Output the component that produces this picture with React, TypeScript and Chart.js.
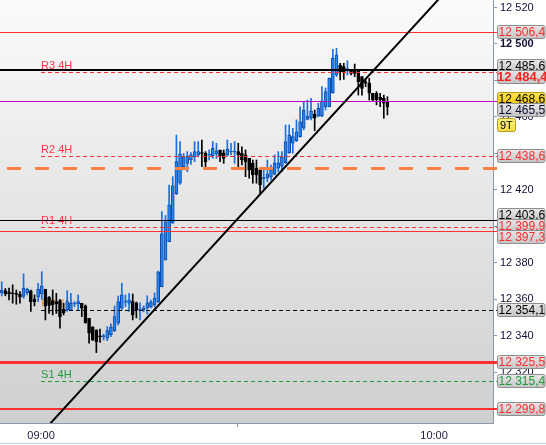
import React, { useEffect, useRef } from 'react';
import { Chart, registerables } from 'chart.js';

Chart.register(...registerables);

const FONT = "'Liberation Sans', Arial, Helvetica, sans-serif";

// ---------- candles ----------
const firstCandleTime = '08:54:00';
const candleSeconds = 33.33;

const opens = [
  12363.6, 12364.8, 12364.1, 12363.7, 12363.3, 12362.8, 12361.6, 12363.7, 12364.7, 12360.1,
  12361.2, 12363.0, 12365.6, 12361.2, 12359.4, 12358.8, 12359.4, 12354.6, 12354.3, 12353.9,
  12357.6, 12357.5, 12357.9, 12356.5, 12349.7, 12344.8, 12343.3, 12340.0, 12339.6, 12338.8,
  12340.6, 12342.9, 12347.0, 12355.2, 12358.5, 12357.9, 12358.8, 12358.1, 12354.0, 12354.3,
  12355.4, 12355.9, 12357.0, 12358.8, 12367.0, 12381.6, 12391.7, 12401.8, 12418.0, 12423.7,
  12432.8, 12434.6, 12436.4, 12438.2, 12439.2, 12440.4, 12440.1, 12439.0, 12438.6, 12439.7,
  12441.9, 12440.4, 12439.2, 12440.8, 12440.7, 12441.0, 12440.1, 12439.2, 12437.3, 12434.6,
  12431.9, 12431.0, 12426.2, 12426.4, 12427.0, 12428.7, 12431.9, 12433.1, 12435.0, 12440.4,
  12445.6, 12447.0, 12449.2, 12453.8, 12458.7, 12459.3, 12461.6, 12460.5, 12460.5, 12465.6,
  12465.6, 12473.3, 12483.0, 12488.5, 12487.6, 12486.0, 12485.7, 12485.7, 12485.7, 12482.1,
  12479.3, 12478.5, 12473.0, 12473.0, 12470.8, 12470.2, 12468.4,
];
const highs = [
  12369.7, 12366.0, 12366.3, 12368.0, 12365.2, 12364.3, 12374.0, 12366.2, 12365.2, 12362.5,
  12368.9, 12375.2, 12365.6, 12361.6, 12365.2, 12363.4, 12360.1, 12357.9, 12364.8, 12363.4,
  12358.8, 12362.5, 12357.9, 12357.0, 12349.7, 12345.2, 12343.3, 12343.7, 12341.0, 12345.1,
  12346.6, 12356.5, 12361.9, 12368.9, 12362.5, 12363.4, 12363.0, 12358.6, 12358.1, 12356.5,
  12362.0, 12359.7, 12363.6, 12375.6, 12408.1, 12406.0, 12422.7, 12427.3, 12450.1, 12446.5,
  12440.0, 12441.0, 12440.5, 12446.5, 12446.5, 12447.4, 12441.0, 12442.0, 12446.5, 12445.6,
  12441.9, 12441.9, 12447.4, 12445.6, 12446.5, 12445.6, 12443.7, 12441.9, 12437.3, 12436.4,
  12436.4, 12431.9, 12431.0, 12436.4, 12433.7, 12439.2, 12441.0, 12441.0, 12455.6, 12455.6,
  12453.8, 12458.4, 12465.6, 12468.4, 12469.3, 12470.2, 12463.8, 12467.5, 12476.6, 12475.9,
  12481.4, 12497.1, 12497.6, 12489.4, 12489.4, 12490.8, 12485.7, 12489.0, 12485.7, 12482.1,
  12480.3, 12481.2, 12473.0, 12473.9, 12473.0, 12472.0, 12471.1,
];
const lows = [
  12361.9, 12362.0, 12359.7, 12358.0, 12357.4, 12358.0, 12360.7, 12362.5, 12353.4, 12356.5,
  12358.8, 12360.1, 12348.8, 12352.4, 12351.5, 12352.4, 12344.2, 12351.5, 12353.4, 12353.9,
  12356.1, 12354.3, 12350.6, 12347.0, 12336.0, 12337.5, 12330.9, 12336.4, 12337.8, 12337.4,
  12339.6, 12342.4, 12346.0, 12354.3, 12356.1, 12353.4, 12348.8, 12349.9, 12348.8, 12353.2,
  12352.0, 12355.4, 12355.9, 12358.3, 12366.9, 12381.6, 12391.7, 12401.8, 12417.5, 12423.0,
  12431.0, 12430.0, 12434.0, 12435.5, 12438.2, 12432.8, 12432.8, 12436.4, 12437.3, 12437.3,
  12435.5, 12434.6, 12438.6, 12439.2, 12434.6, 12432.8, 12433.7, 12427.3, 12426.4, 12423.7,
  12423.7, 12418.2, 12420.9, 12424.5, 12425.5, 12428.2, 12430.0, 12430.0, 12434.6, 12440.1,
  12440.1, 12446.5, 12448.9, 12452.9, 12458.4, 12458.4, 12452.5, 12460.1, 12460.1, 12463.8,
  12465.5, 12473.0, 12482.1, 12480.3, 12480.6, 12483.0, 12483.0, 12482.1, 12472.0, 12472.0,
  12476.6, 12469.3, 12468.4, 12466.6, 12465.6, 12459.3, 12461.1,
];
const closes = [
  12365.2, 12363.0, 12363.0, 12363.0, 12362.8, 12361.2, 12366.2, 12365.6, 12358.8, 12358.8,
  12365.6, 12367.4, 12356.5, 12356.8, 12357.0, 12357.5, 12350.6, 12352.8, 12358.8, 12357.9,
  12358.0, 12358.8, 12355.2, 12347.3, 12341.5, 12337.8, 12336.9, 12339.5, 12340.0, 12342.9,
  12344.8, 12350.6, 12358.8, 12362.5, 12359.0, 12359.7, 12351.5, 12354.3, 12354.5, 12355.4,
  12358.1, 12358.6, 12360.8, 12375.2, 12395.9, 12402.6, 12411.8, 12422.2, 12435.5, 12439.7,
  12438.0, 12438.6, 12439.2, 12441.0, 12441.0, 12440.0, 12435.5, 12439.4, 12442.8, 12441.5,
  12438.6, 12437.3, 12442.3, 12441.1, 12441.2, 12439.2, 12436.4, 12435.5, 12431.0, 12428.2,
  12428.2, 12422.7, 12426.6, 12428.7, 12431.0, 12434.9, 12434.9, 12437.9, 12446.5, 12450.1,
  12449.2, 12451.9, 12457.4, 12463.8, 12460.5, 12463.4, 12459.3, 12464.8, 12468.8, 12473.9,
  12481.2, 12492.2, 12494.0, 12484.8, 12484.8, 12486.3, 12483.9, 12483.9, 12479.3, 12475.7,
  12478.5, 12473.0, 12469.3, 12469.3, 12469.3, 12467.5, 12465.5,
];

// ---------- axes ----------
const viewStartTime = '08:53:44';
const viewEndTime = '10:09:00';
const timeTickLabels = ['09:00', '10:00'];
const priceMin = 12292.3;
const priceMax = 12524.1;
const priceTicks = [12300, 12320, 12340, 12360, 12380, 12400, 12420, 12440, 12460, 12480, 12500, 12520];

// ---------- horizontal levels ----------
const levelValues = [12506.4, 12485.6, 12468.6, 12431.9, 12403.6, 12397.3, 12325.5, 12299.8];
const pivotNames = ['R3 4H', 'R2 4H', 'R1 4H', 'PP 4H', 'S1 4H'];
const pivotValues = [12484.4, 12438.6, 12399.9, 12354.1, 12315.4];
const pivotStartTime = '09:00';

// ---------- trend line ----------
const trendTimes = ['09:00', '10:01'];
const trendPrices = [12286.5, 12525.7];

const timerLabel = '9T';

// styles (kept apart from the data)
const RED = '#ff3030';
const levelStyles = [
  { color: RED, width: 1, dash: [] as number[], offset: 0, box: 'gray', text: '#ff2a2a' },
  { color: '#000000', width: 2, dash: [], offset: 0, box: 'gray', text: '#000000' },
  { color: '#c000c0', width: 1, dash: [], offset: 0, box: 'yellow', text: '#000000' },
  { color: '#ff8040', width: 3, dash: [14, 14], offset: 21, box: null, text: '' },
  { color: '#000000', width: 1, dash: [], offset: 0, box: 'gray', text: '#000000' },
  { color: RED, width: 1, dash: [], offset: 0, box: 'gray', text: '#ff2a2a' },
  { color: RED, width: 3, dash: [], offset: 0, box: 'gray', text: '#ff2a2a' },
  { color: RED, width: 2, dash: [], offset: 0, box: 'gray', text: '#ff2a2a' },
];
const pivotStyles = [
  { color: RED, label: '#ff3344', text: '#ff2020', bold: true },
  { color: RED, label: '#ff3344', text: '#ff2a2a', bold: false },
  { color: RED, label: '#ff3344', text: '#ff2a2a', bold: false },
  { color: '#000000', label: '#e89a3c', text: '#000000', bold: false },
  { color: '#1e9a3c', label: '#1e9a3c', text: '#1e9a3c', bold: false },
];

function toMin(s: string): number {
  const p = s.split(':').map(Number);
  return p[0] * 60 + p[1] + (p[2] || 0) / 60;
}

function fmtPrice(v: number, dec: number): string {
  const s = v.toFixed(dec);
  const [i, d] = s.split('.');
  const ip = i.replace(/\B(?=(\d{3})+(?!\d))/g, ' ');
  return d ? ip + ',' + d : ip;
}

function spread(ys: number[], gap: number): number[] {
  type C = { s: number; e: number };
  let cl: C[] = ys.map((_, i) => ({ s: i, e: i }));
  const top = (c: C) => {
    let sum = 0;
    for (let k = c.s; k <= c.e; k++) sum += ys[k];
    const n = c.e - c.s + 1;
    return sum / n - ((n - 1) * gap) / 2;
  };
  let changed = true;
  while (changed) {
    changed = false;
    for (let k = 0; k < cl.length - 1; k++) {
      const a = cl[k], b = cl[k + 1];
      const aBottom = top(a) + (a.e - a.s) * gap;
      if (top(b) - aBottom < gap) {
        cl.splice(k, 2, { s: a.s, e: b.e });
        changed = true;
        break;
      }
    }
  }
  const out: number[] = new Array(ys.length);
  cl.forEach((c) => {
    const t = top(c);
    for (let k = c.s; k <= c.e; k++) out[k] = t + (k - c.s) * gap;
  });
  return out;
}

function drawBox(ctx: CanvasRenderingContext2D, x: number, y: number, w: number, h: number, kind: string) {
  const g = ctx.createLinearGradient(0, y, 0, y + h);
  if (kind === 'yellow') {
    g.addColorStop(0, '#ffe650');
    g.addColorStop(1, '#f0c400');
  } else if (kind === 'timer') {
    g.addColorStop(0, '#fff27a');
    g.addColorStop(1, '#f5dc40');
  } else {
    g.addColorStop(0, '#e8e8e8');
    g.addColorStop(1, '#c4c4c4');
  }
  const r = 2;
  ctx.beginPath();
  ctx.moveTo(x + r, y);
  ctx.lineTo(x + w - r, y);
  ctx.quadraticCurveTo(x + w, y, x + w, y + r);
  ctx.lineTo(x + w, y + h - r);
  ctx.quadraticCurveTo(x + w, y + h, x + w - r, y + h);
  ctx.lineTo(x + r, y + h);
  ctx.quadraticCurveTo(x, y + h, x, y + h - r);
  ctx.lineTo(x, y + r);
  ctx.quadraticCurveTo(x, y, x + r, y);
  ctx.closePath();
  ctx.fillStyle = g;
  ctx.fill();
  ctx.strokeStyle = kind === 'gray' ? '#8e8e8e' : '#b89a20';
  ctx.lineWidth = 1;
  ctx.stroke();
}

const chartPlugin = {
  id: 'tradingDecor',
  beforeDraw(chart: any) {
    const { ctx, chartArea: a } = chart;
    ctx.save();
    ctx.fillStyle = '#ffffff';
    ctx.fillRect(0, 0, chart.width, chart.height);
    const g = ctx.createLinearGradient(0, a.top, 0, a.bottom);
    g.addColorStop(0, '#fbfbfb');
    g.addColorStop(1, '#cfcfcf');
    ctx.fillStyle = g;
    ctx.fillRect(a.left, a.top, a.right - a.left, a.bottom - a.top);
    ctx.restore();
  },
  beforeDatasetsDraw(chart: any) {
    const { ctx, scales } = chart;
    const x0 = scales.x.getPixelForValue(toMin(pivotStartTime));
    ctx.save();
    ctx.font = `11px ${FONT}`;
    ctx.textBaseline = 'alphabetic';
    ctx.textAlign = 'left';
    pivotValues.forEach((v, i) => {
      const y = Math.round(scales.y.getPixelForValue(v));
      ctx.fillStyle = pivotStyles[i].label;
      ctx.fillText(pivotNames[i], x0, y - 3);
    });
    ctx.restore();
  },
  beforeDatasetDraw(chart: any, args: any) {
    if (args.meta.type !== 'line') return;
    const { ctx, scales, chartArea: a } = chart;
    const right = a.right + 4;
    const drawLine = (v: number, x0: number, st: any) => {
      const yy = scales.y.getPixelForValue(v);
      const y = st.width % 2 === 1 ? Math.round(yy) + 0.5 : Math.round(yy);
      ctx.beginPath();
      ctx.strokeStyle = st.color;
      ctx.lineWidth = st.width;
      ctx.setLineDash(st.dash || []);
      ctx.lineDashOffset = st.offset || 0;
      ctx.moveTo(x0, y);
      ctx.lineTo(right, y);
      ctx.stroke();
    };
    ctx.save();
    levelValues.forEach((v, i) => drawLine(v, a.left, levelStyles[i]));
    const px0 = scales.x.getPixelForValue(toMin(pivotStartTime));
    pivotValues.forEach((v, i) =>
      drawLine(v, px0, { color: pivotStyles[i].color, width: 1, dash: [4, 3], offset: 0 })
    );
    ctx.setLineDash([]);
    ctx.restore();
  },
  afterDraw(chart: any) {
    const { ctx, scales, chartArea: a } = chart;
    type Item = { value: number; text: string; box: string; bold: boolean; isCurrent?: boolean };
    const items: Item[] = [];
    levelValues.forEach((v, i) => {
      const st = levelStyles[i];
      if (st.box) items.push({ value: v, text: st.text, box: st.box, bold: false });
    });
    pivotValues.forEach((v, i) => {
      items.push({ value: v, text: pivotStyles[i].text, box: 'gray', bold: pivotStyles[i].bold });
    });
    items.push({ value: closes[closes.length - 1], text: '#0a0a30', box: 'gray', bold: false, isCurrent: true });
    items.sort((p, q) => q.value - p.value);
    const ys = items.map((it) => scales.y.getPixelForValue(it.value));
    const pos = spread(ys, 11);
    const bx = a.right + 4;
    const bw = chart.width - bx - 1.5;
    const bh = 14;
    ctx.save();
    let currentY = 0;
    items.forEach((it, k) => {
      const cy = Math.round(pos[k]);
      drawBox(ctx, bx + 0.5, cy - bh / 2 + 0.5, bw, bh - 1, it.box);
      ctx.fillStyle = it.text;
      ctx.textBaseline = 'middle';
      ctx.textAlign = 'left';
      ctx.font = it.bold ? `bold 13px ${FONT}` : `12px ${FONT}`;
      ctx.fillText(fmtPrice(it.value, 1), it.bold ? bx : bx + 1.5, cy + 0.5);
      if (it.isCurrent) currentY = cy;
    });
    const ty = currentY + 15;
    drawBox(ctx, bx + 0.5, ty - bh / 2 + 0.5, 18, bh - 1, 'timer');
    ctx.fillStyle = '#000000';
    ctx.font = `11px ${FONT}`;
    ctx.textBaseline = 'middle';
    ctx.fillText(timerLabel, bx + 3, ty + 0.5);
    ctx.fillStyle = '#bcd6ee';
    ctx.fillRect(0, chart.height - 2, chart.width, 1);
    ctx.restore();
  },
};

export default function App() {
  const ref = useRef<HTMLCanvasElement | null>(null);
  useEffect(() => {
    if (!ref.current) return;
    const t0 = toMin(firstCandleTime);
    const times = opens.map((_, i) => t0 + (i * candleSeconds) / 60);
    const up = opens.map((o, i) => closes[i] >= o);
    const bodyData = times.map((t, i) => ({ x: t, y: [opens[i], closes[i]] }));
    const wickData = times.map((t, i) => ({ x: t, y: [lows[i], highs[i]] }));
    const trendData = trendTimes.map((t, i) => ({ x: toMin(t), y: trendPrices[i] }));
    const axisColor = '#8b98aa';

    const chart = new Chart(ref.current, {
      type: 'bar',
      data: {
        datasets: [
          {
            type: 'bar',
            data: wickData as any,
            backgroundColor: up.map((u) => (u ? '#1a6ee0' : '#000000')),
            borderWidth: 0,
            barThickness: 1,
            grouped: false,
            minBarLength: 1,
            order: 2,
          } as any,
          {
            type: 'bar',
            data: bodyData as any,
            backgroundColor: up.map((u) => (u ? '#2a86f0' : '#000000')),
            borderColor: up.map((u) => (u ? '#0a4cae' : '#000000')),
            borderWidth: 1,
            borderSkipped: false,
            barThickness: 3,
            grouped: false,
            minBarLength: 1,
            order: 1,
          } as any,
          {
            type: 'line',
            data: trendData as any,
            borderColor: '#000000',
            borderWidth: 2,
            pointRadius: 0,
            fill: false,
            order: 0,
          } as any,
        ],
      },
      options: {
        responsive: false,
        animation: false,
        devicePixelRatio: 1,
        layout: { padding: 0 },
        plugins: { legend: { display: false }, tooltip: { enabled: false } },
        scales: {
          x: {
            type: 'linear',
            min: toMin(viewStartTime),
            max: toMin(viewEndTime),
            offset: false,
            grid: { display: true, drawOnChartArea: false, drawTicks: true, tickLength: 4, color: axisColor },
            border: { display: true, color: axisColor },
            ticks: {
              color: '#1c1c44',
              font: { family: FONT, size: 11 },
              padding: 2,
              maxRotation: 0,
              autoSkip: false,
              callback: (v: any) => {
                const f = timeTickLabels.find((l) => Math.abs(toMin(l) - Number(v)) < 1e-6);
                return f || '';
              },
            },
            afterBuildTicks: (s: any) => {
              s.ticks = timeTickLabels.map((l) => ({ value: toMin(l) }));
            },
            afterFit: (s: any) => {
              s.height = 22;
              s.paddingLeft = 0;
              s.paddingRight = 0;
            },
          } as any,
          y: {
            type: 'linear',
            position: 'right',
            min: priceMin,
            max: priceMax,
            grid: { display: true, drawOnChartArea: false, drawTicks: true, tickLength: 4, color: axisColor },
            border: { display: true, color: axisColor },
            ticks: {
              color: '#10103a',
              padding: 3,
              font: (c: any) => ({
                family: FONT,
                size: 11,
                weight: c.tick && Math.round(c.tick.value) % 100 === 0 ? 'bold' : 'normal',
              }),
              callback: (v: any) => fmtPrice(Number(v), 0),
            },
            afterBuildTicks: (s: any) => {
              s.ticks = priceTicks.map((v) => ({ value: v }));
            },
            afterFit: (s: any) => {
              s.width = 53;
              s.paddingTop = 0;
              s.paddingBottom = 0;
            },
          } as any,
        },
      },
      plugins: [chartPlugin as any],
    });
    return () => chart.destroy();
  }, []);

  return (
    <div style={{ position: 'absolute', left: 0, top: 0, width: 546, height: 445 }}>
      <canvas ref={ref} width={546} height={445} style={{ display: 'block' }} />
    </div>
  );
}
